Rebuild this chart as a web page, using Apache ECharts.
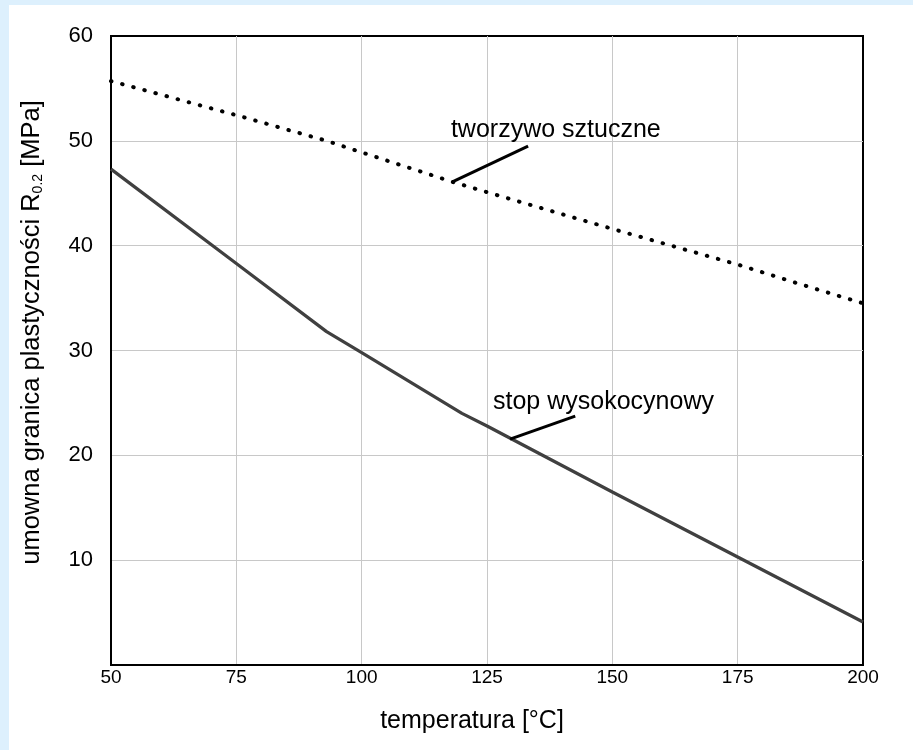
<!DOCTYPE html>
<html>
<head>
<meta charset="utf-8">
<script src="https://cdn.jsdelivr.net/npm/echarts@6/dist/echarts.min.js"></script>
<style>
html,body{margin:0;padding:0;background:#ddf0fd;}
#wrap{position:absolute;left:9px;top:5px;right:0;bottom:0;background:#fff;}
#chart{position:absolute;left:-9px;top:-5px;width:913px;height:750px;}
</style>
</head>
<body>
<div id="wrap"><div id="chart"></div></div>
<script>
const temps = [50, 75, 93, 100, 118, 125, 150, 175, 187, 200];
const plastic = [55.7, 52.45, 50.0, 48.9, 46.1, 45.1, 41.6, 38.2, 36.4, 34.5];
const alloyTemps = [50, 75, 93, 100, 120, 125, 150, 175, 200];
const alloy = [47.3, 38.3, 31.8, 29.8, 24.0, 22.8, 16.5, 10.3, 4.1];
const xTicks = [50, 75, 100, 125, 150, 175, 200];
const yTicks = [10, 20, 30, 40, 50, 60];
const plasticName = 'tworzywo sztuczne';
const alloyName = 'stop wysokocynowy';
const plasticLeader = [[118.2, 46.1], [133.2, 49.5]];
const alloyLeader = [[129.6, 21.55], [142.6, 23.74]];
const plasticLabelAt = [117.8, 49.85];
const alloyLabelAt = [126.2, 23.85];

const FONT = '"Liberation Sans", Arial, sans-serif';
const chart = echarts.init(document.getElementById('chart'), null, {renderer: 'canvas'});
chart.setOption({
  backgroundColor: 'transparent',
  animation: false,
  grid: {left: 111, top: 36, width: 752, height: 629, show: true, borderColor: '#000', borderWidth: 2, backgroundColor: 'transparent'},
  xAxis: {
    type: 'value', min: 50, max: 200, interval: 25,
    name: 'temperatura [°C]', nameLocation: 'middle', nameGap: 44,
    nameTextStyle: {fontFamily: FONT, fontSize: 25, color: '#000', padding: [0, 30, 0, 0]},
    axisLine: {show: true, lineStyle: {color: '#000', width: 2}},
    axisTick: {show: false},
    axisLabel: {fontFamily: FONT, fontSize: 19, color: '#000', margin: 3,
      formatter: v => xTicks.includes(v) ? String(v) : ''},
    splitLine: {show: true, showMinLine: false, showMaxLine: false, lineStyle: {color: '#c8c8c8', width: 1}}
  },
  yAxis: {
    type: 'value', min: 0, max: 60, interval: 10,
    name: 'umowna granica plastyczności R{sub|0.2} [MPa]', nameLocation: 'middle', nameGap: 66,
    nameTextStyle: {fontFamily: FONT, fontSize: 25.5, color: '#000', padding: [0, 0, 0, 36],
      rich: {sub: {fontFamily: FONT, fontSize: 14, color: '#000', verticalAlign: 'bottom', padding: [10, 0, 0, 0]}}},
    axisLine: {show: true, lineStyle: {color: '#000', width: 2}},
    axisTick: {show: false},
    axisLabel: {fontFamily: FONT, fontSize: 22, color: '#000', margin: 18,
      formatter: v => yTicks.includes(v) ? String(v) : ''},
    splitLine: {show: true, showMinLine: false, showMaxLine: false, lineStyle: {color: '#c8c8c8', width: 1}}
  },
  series: [
    {
      name: plasticName, type: 'line', symbol: 'none', smooth: false,
      data: temps.map((t, i) => [t, plastic[i]]),
      lineStyle: {color: '#000', width: 4, type: [0.5, 11], cap: 'round'},
      markLine: {
        silent: true, symbol: 'none', animation: false,
        lineStyle: {color: '#000', width: 3, type: 'solid'},
        label: {show: false},
        data: [[{coord: plasticLeader[0]}, {coord: plasticLeader[1]}]]
      },
      markPoint: {
        silent: true, symbol: 'circle', symbolSize: 0,
        label: {show: true, position: 'inside', align: 'left', verticalAlign: 'bottom', color: '#000', fontFamily: FONT, fontSize: 25, formatter: plasticName},
        data: [{coord: plasticLabelAt}]
      }
    },
    {
      name: alloyName, type: 'line', symbol: 'none', smooth: false,
      data: alloyTemps.map((t, i) => [t, alloy[i]]),
      lineStyle: {color: '#404040', width: 3.2},
      markLine: {
        silent: true, symbol: 'none', animation: false,
        lineStyle: {color: '#000', width: 3, type: 'solid'},
        label: {show: false},
        data: [[{coord: alloyLeader[0]}, {coord: alloyLeader[1]}]]
      },
      markPoint: {
        silent: true, symbol: 'circle', symbolSize: 0,
        label: {show: true, position: 'inside', align: 'left', verticalAlign: 'bottom', color: '#000', fontFamily: FONT, fontSize: 25, formatter: alloyName},
        data: [{coord: alloyLabelAt}]
      }
    }
  ]
});
</script>
</body>
</html>
